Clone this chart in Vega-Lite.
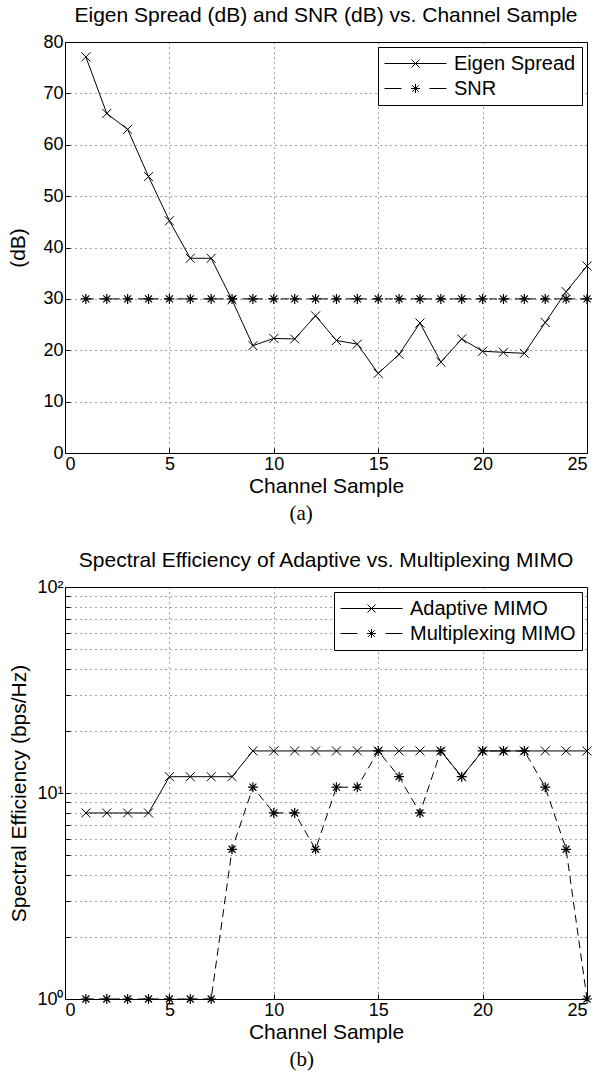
{
  "$schema": "https://vega.github.io/schema/vega-lite/v6.json",
  "background": "white",
  "padding": {"left": 7, "top": 4, "right": 5, "bottom": 5},
  "spacing": 25,
  "resolve": {"scale": {"color": "independent"}, "legend": {"color": "independent"}},
  "config": {
    "font": "Liberation Sans",
    "view": {"stroke": "black", "strokeWidth": 1},
    "axis": {
      "labelFont": "Liberation Sans",
      "labelFontSize": 18,
      "labelColor": "black",
      "titleFont": "Liberation Sans",
      "titleFontSize": 21,
      "titleFontWeight": "normal",
      "titleColor": "black",
      "domain": false,
      "tickColor": "black",
      "tickSize": -5,
      "labelPadding": 7,
      "grid": true,
      "gridColor": "black",
      "gridOpacity": 0.75,
      "gridDash": [1, 4],
      "labelOverlap": false
    },
    "title": {"font": "Liberation Sans", "fontSize": 21, "fontWeight": "normal", "color": "black", "anchor": "middle", "offset": 7},
    "legend": {
      "title": null,
      "orient": "top-right",
      "offset": 5,
      "fillColor": "white",
      "strokeColor": "black",
      "padding": 6,
      "rowPadding": 4,
      "labelFont": "Liberation Sans",
      "labelFontSize": 20,
      "labelColor": "black",
      "labelOffset": 49,
      "labelLimit": 400,
      "symbolSize": 400,
      "symbolStrokeWidth": 1,
      "symbolStrokeColor": "black",
      "symbolFillColor": "transparent"
    }
  },
  "datasets": {
    "a": [
      {"series": "Eigen Spread", "x": 1, "y": 77.1},
      {"series": "Eigen Spread", "x": 2, "y": 66.1},
      {"series": "Eigen Spread", "x": 3, "y": 63.0},
      {"series": "Eigen Spread", "x": 4, "y": 53.8},
      {"series": "Eigen Spread", "x": 5, "y": 45.2},
      {"series": "Eigen Spread", "x": 6, "y": 37.9},
      {"series": "Eigen Spread", "x": 7, "y": 37.9},
      {"series": "Eigen Spread", "x": 8, "y": 29.8},
      {"series": "Eigen Spread", "x": 9, "y": 20.9},
      {"series": "Eigen Spread", "x": 10, "y": 22.3},
      {"series": "Eigen Spread", "x": 11, "y": 22.2},
      {"series": "Eigen Spread", "x": 12, "y": 26.7},
      {"series": "Eigen Spread", "x": 13, "y": 21.9},
      {"series": "Eigen Spread", "x": 14, "y": 21.2},
      {"series": "Eigen Spread", "x": 15, "y": 15.5},
      {"series": "Eigen Spread", "x": 16, "y": 19.2},
      {"series": "Eigen Spread", "x": 17, "y": 25.3},
      {"series": "Eigen Spread", "x": 18, "y": 17.7},
      {"series": "Eigen Spread", "x": 19, "y": 22.2},
      {"series": "Eigen Spread", "x": 20, "y": 19.8},
      {"series": "Eigen Spread", "x": 21, "y": 19.6},
      {"series": "Eigen Spread", "x": 22, "y": 19.4},
      {"series": "Eigen Spread", "x": 23, "y": 25.4},
      {"series": "Eigen Spread", "x": 24, "y": 31.4},
      {"series": "Eigen Spread", "x": 25, "y": 36.4},
      {"series": "SNR", "x": 1, "y": 30},
      {"series": "SNR", "x": 2, "y": 30},
      {"series": "SNR", "x": 3, "y": 30},
      {"series": "SNR", "x": 4, "y": 30},
      {"series": "SNR", "x": 5, "y": 30},
      {"series": "SNR", "x": 6, "y": 30},
      {"series": "SNR", "x": 7, "y": 30},
      {"series": "SNR", "x": 8, "y": 30},
      {"series": "SNR", "x": 9, "y": 30},
      {"series": "SNR", "x": 10, "y": 30},
      {"series": "SNR", "x": 11, "y": 30},
      {"series": "SNR", "x": 12, "y": 30},
      {"series": "SNR", "x": 13, "y": 30},
      {"series": "SNR", "x": 14, "y": 30},
      {"series": "SNR", "x": 15, "y": 30},
      {"series": "SNR", "x": 16, "y": 30},
      {"series": "SNR", "x": 17, "y": 30},
      {"series": "SNR", "x": 18, "y": 30},
      {"series": "SNR", "x": 19, "y": 30},
      {"series": "SNR", "x": 20, "y": 30},
      {"series": "SNR", "x": 21, "y": 30},
      {"series": "SNR", "x": 22, "y": 30},
      {"series": "SNR", "x": 23, "y": 30},
      {"series": "SNR", "x": 24, "y": 30},
      {"series": "SNR", "x": 25, "y": 30}
    ],
    "b": [
      {"series": "Adaptive MIMO", "x": 1, "y": 8},
      {"series": "Adaptive MIMO", "x": 2, "y": 8},
      {"series": "Adaptive MIMO", "x": 3, "y": 8},
      {"series": "Adaptive MIMO", "x": 4, "y": 8},
      {"series": "Adaptive MIMO", "x": 5, "y": 12},
      {"series": "Adaptive MIMO", "x": 6, "y": 12},
      {"series": "Adaptive MIMO", "x": 7, "y": 12},
      {"series": "Adaptive MIMO", "x": 8, "y": 12},
      {"series": "Adaptive MIMO", "x": 9, "y": 16},
      {"series": "Adaptive MIMO", "x": 10, "y": 16},
      {"series": "Adaptive MIMO", "x": 11, "y": 16},
      {"series": "Adaptive MIMO", "x": 12, "y": 16},
      {"series": "Adaptive MIMO", "x": 13, "y": 16},
      {"series": "Adaptive MIMO", "x": 14, "y": 16},
      {"series": "Adaptive MIMO", "x": 15, "y": 16},
      {"series": "Adaptive MIMO", "x": 16, "y": 16},
      {"series": "Adaptive MIMO", "x": 17, "y": 16},
      {"series": "Adaptive MIMO", "x": 18, "y": 16},
      {"series": "Adaptive MIMO", "x": 19, "y": 12},
      {"series": "Adaptive MIMO", "x": 20, "y": 16},
      {"series": "Adaptive MIMO", "x": 21, "y": 16},
      {"series": "Adaptive MIMO", "x": 22, "y": 16},
      {"series": "Adaptive MIMO", "x": 23, "y": 16},
      {"series": "Adaptive MIMO", "x": 24, "y": 16},
      {"series": "Adaptive MIMO", "x": 25, "y": 16},
      {"series": "Multiplexing MIMO", "x": 1, "y": 1},
      {"series": "Multiplexing MIMO", "x": 2, "y": 1},
      {"series": "Multiplexing MIMO", "x": 3, "y": 1},
      {"series": "Multiplexing MIMO", "x": 4, "y": 1},
      {"series": "Multiplexing MIMO", "x": 5, "y": 1},
      {"series": "Multiplexing MIMO", "x": 6, "y": 1},
      {"series": "Multiplexing MIMO", "x": 7, "y": 1},
      {"series": "Multiplexing MIMO", "x": 8, "y": 5.33},
      {"series": "Multiplexing MIMO", "x": 9, "y": 10.67},
      {"series": "Multiplexing MIMO", "x": 10, "y": 8},
      {"series": "Multiplexing MIMO", "x": 11, "y": 8},
      {"series": "Multiplexing MIMO", "x": 12, "y": 5.33},
      {"series": "Multiplexing MIMO", "x": 13, "y": 10.67},
      {"series": "Multiplexing MIMO", "x": 14, "y": 10.67},
      {"series": "Multiplexing MIMO", "x": 15, "y": 16},
      {"series": "Multiplexing MIMO", "x": 16, "y": 12},
      {"series": "Multiplexing MIMO", "x": 17, "y": 8},
      {"series": "Multiplexing MIMO", "x": 18, "y": 16},
      {"series": "Multiplexing MIMO", "x": 19, "y": 12},
      {"series": "Multiplexing MIMO", "x": 20, "y": 16},
      {"series": "Multiplexing MIMO", "x": 21, "y": 16},
      {"series": "Multiplexing MIMO", "x": 22, "y": 16},
      {"series": "Multiplexing MIMO", "x": 23, "y": 10.67},
      {"series": "Multiplexing MIMO", "x": 24, "y": 5.33},
      {"series": "Multiplexing MIMO", "x": 25, "y": 1}
    ]
  },
  "vconcat": [
    {
      "title": {"text": "(a)", "orient": "bottom", "font": "Liberation Serif", "fontSize": 21, "fontWeight": "normal", "offset": 6},
      "resolve": {"scale": {"color": "independent"}, "legend": {"color": "independent"}},
      "vconcat": [
        {
          "width": 522,
          "height": 411,
          "title": {"text": "Eigen Spread (dB) and SNR (dB) vs. Channel Sample"},
          "data": {"name": "a"},
          "encoding": {
            "x": {"field": "x", "type": "quantitative", "scale": {"domain": [0, 25], "nice": false}, "axis": {"values": [0, 5, 10, 15, 20, 25], "title": "Channel Sample", "titlePadding": 2}},
            "y": {"field": "y", "type": "quantitative", "scale": {"domain": [0, 80], "nice": false}, "axis": {"values": [0, 10, 20, 30, 40, 50, 60, 70, 80], "title": "(dB)", "titlePadding": 14}},
            "color": {
              "field": "series", "type": "nominal",
              "scale": {"domain": ["Eigen Spread", "SNR"], "range": ["black", "black"]},
              "legend": {
                "labelExpr": "datum.label + '   '",
                "encode": {"symbols": {"update": {
                  "shape": {"signal": "datum.value === 'Eigen Spread' ? 'M-1,0L5.2,0M1.7,-0.4L2.5,0.4M1.7,0.4L2.5,-0.4' : 'M-1,0L0.7,0M3.5,0L5.2,0M1.65,0L2.55,0M2.1,-0.45L2.1,0.45M1.78,-0.32L2.42,0.32M1.78,0.32L2.42,-0.32'"},
                  "fill": {"value": "transparent"},
                  "stroke": {"value": "black"},
                  "strokeDash": {"value": []},
                  "size": {"value": 400}
                }}}
              }
            }
          },
          "layer": [
            {
              "transform": [{"filter": "datum.series === 'Eigen Spread'"}],
              "mark": {"type": "line", "strokeWidth": 1}
            },
            {
              "transform": [{"filter": "datum.series === 'SNR'"}],
              "mark": {"type": "line", "strokeWidth": 1, "strokeDash": [8, 5]}
            },
            {
              "transform": [{"filter": "datum.series === 'Eigen Spread'"}],
              "mark": {"type": "point", "filled": false, "strokeWidth": 1, "opacity": 1, "shape": "M-1,-1L1,1M-1,1L1,-1", "size": 81}
            },
            {
              "transform": [{"filter": "datum.series === 'SNR'"}],
              "mark": {"type": "point", "filled": false, "strokeWidth": 1.2, "opacity": 1, "shape": "M-1,0L1,0M0,-1L0,1M-0.7,-0.7L0.7,0.7M-0.7,0.7L0.7,-0.7", "size": 100}
            }
          ]
        }
      ]
    },
    {
      "title": {"text": "(b)", "orient": "bottom", "font": "Liberation Serif", "fontSize": 21, "fontWeight": "normal", "offset": 6},
      "resolve": {"scale": {"color": "independent"}, "legend": {"color": "independent"}},
      "vconcat": [
        {
          "width": 522,
          "height": 412,
          "title": {"text": "Spectral Efficiency of Adaptive vs. Multiplexing MIMO"},
          "data": {"name": "b"},
          "encoding": {
            "x": {"field": "x", "type": "quantitative", "scale": {"domain": [0, 25], "nice": false}, "axis": {"values": [0, 5, 10, 15, 20, 25], "title": "Channel Sample", "titlePadding": 2}},
            "y": {"field": "y", "type": "quantitative", "scale": {"type": "log", "domain": [1, 100], "nice": false}, "axis": {"values": [1, 2, 3, 4, 5, 6, 7, 8, 9, 10, 20, 30, 40, 50, 60, 70, 80, 90, 100], "labelExpr": "datum.value == 1 ? '10⁰' : datum.value == 10 ? '10¹' : datum.value == 100 ? '10²' : ''", "title": "Spectral Efficiency (bps/Hz)", "titlePadding": 7}},
            "color": {
              "field": "series", "type": "nominal",
              "scale": {"domain": ["Adaptive MIMO", "Multiplexing MIMO"], "range": ["black", "black"]},
              "legend": {
                "encode": {"symbols": {"update": {
                  "shape": {"signal": "datum.value === 'Adaptive MIMO' ? 'M-1,0L5.2,0M1.7,-0.4L2.5,0.4M1.7,0.4L2.5,-0.4' : 'M-1,0L0.7,0M3.5,0L5.2,0M1.65,0L2.55,0M2.1,-0.45L2.1,0.45M1.78,-0.32L2.42,0.32M1.78,0.32L2.42,-0.32'"},
                  "fill": {"value": "transparent"},
                  "stroke": {"value": "black"},
                  "strokeDash": {"value": []},
                  "size": {"value": 400}
                }}}
              }
            }
          },
          "layer": [
            {
              "transform": [{"filter": "datum.series === 'Adaptive MIMO'"}],
              "mark": {"type": "line", "strokeWidth": 1}
            },
            {
              "transform": [{"filter": "datum.series === 'Multiplexing MIMO'"}],
              "mark": {"type": "line", "strokeWidth": 1, "strokeDash": [8, 5]}
            },
            {
              "transform": [{"filter": "datum.series === 'Adaptive MIMO'"}],
              "mark": {"type": "point", "filled": false, "strokeWidth": 1, "opacity": 1, "shape": "M-1,-1L1,1M-1,1L1,-1", "size": 81}
            },
            {
              "transform": [{"filter": "datum.series === 'Multiplexing MIMO'"}],
              "mark": {"type": "point", "filled": false, "strokeWidth": 1.2, "opacity": 1, "shape": "M-1,0L1,0M0,-1L0,1M-0.7,-0.7L0.7,0.7M-0.7,0.7L0.7,-0.7", "size": 100}
            }
          ]
        }
      ]
    }
  ]
}
